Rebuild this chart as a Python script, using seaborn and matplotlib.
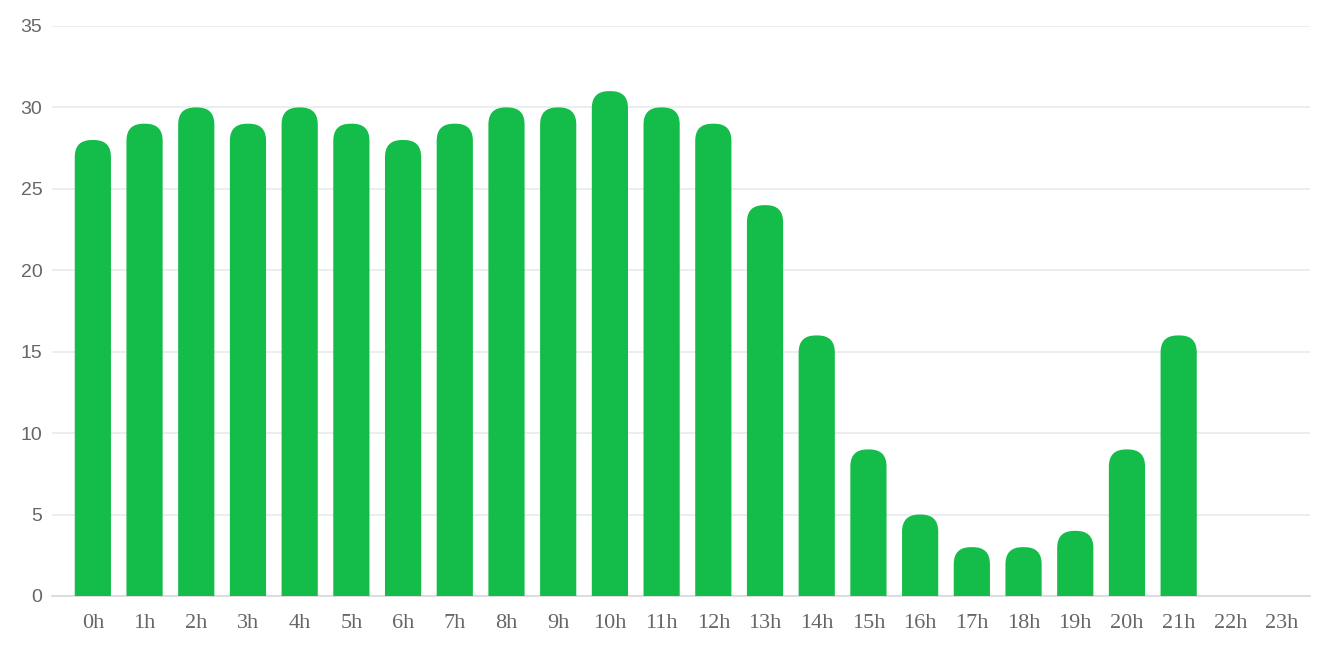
import matplotlib
matplotlib.use("Agg")
import matplotlib.pyplot as plt
import seaborn as sns
import pandas as pd
from matplotlib.patches import FancyBboxPatch

hours = ["{}h".format(i) for i in range(24)]
counts = [28, 29, 30, 29, 30, 29, 28, 29, 30, 30, 31, 30, 29, 24,
          16, 9, 5, 3, 3, 4, 9, 16, 0, 0]

green = "#14bc49"

sns.set_theme(style="white")
plt.rcParams['font.family'] = ['Liberation Sans Narrow', 'Liberation Sans', 'DejaVu Sans']

df = pd.DataFrame({'hour': hours, 'count': counts})

fig = plt.figure(figsize=(13.23, 6.53), dpi=100)
ax = fig.add_axes([52 / 1323, 1 - 596 / 653, (1310 - 52) / 1323, (596 - 26) / 653])

sns.barplot(data=df, x='hour', y='count', color=green, width=0.7, ax=ax, zorder=3)

ax.set_ylim(0, 35)
ax.set_xlim(-0.79, 23.54)

# swap the square bars for ones with rounded tops
# (the round style uses bezier corners, so radius is set a bit large)
xpx = (ax.get_xlim()[1] - ax.get_xlim()[0]) / (1310 - 52)
ypx = 35 / (596 - 26)
rad = 17 * xpx
for p in list(ax.patches):
    x0, w, h = p.get_x(), p.get_width(), p.get_height()
    p.remove()
    if h <= 0:
        continue
    ext = 2.0
    box = FancyBboxPatch((x0, -ext), w, h + ext,
                         boxstyle="round,pad=0,rounding_size={}".format(rad),
                         mutation_aspect=ypx / xpx,
                         facecolor=green, edgecolor='none', zorder=3)
    ax.add_patch(box)

ax.set_yticks(range(0, 36, 5))
ax.grid(axis='y', color='#e8ebeb', linewidth=1.2, zorder=0)
ax.grid(axis='x', visible=False)
for s in ['top', 'right', 'left']:
    ax.spines[s].set_visible(False)
ax.spines['bottom'].set_color('#d6d9d9')
ax.spines['bottom'].set_linewidth(1.2)

ax.tick_params(axis='both', length=0)
ax.tick_params(axis='y', pad=7, labelsize=14, labelcolor='#666666')
ax.tick_params(axis='x', pad=13, labelsize=16, labelcolor='#666666')
for lab in ax.get_xticklabels():
    lab.set_family(['Liberation Serif', 'DejaVu Serif'])
ax.set_xlabel("")
ax.set_ylabel("")

fig.savefig("out.png", dpi=100)
